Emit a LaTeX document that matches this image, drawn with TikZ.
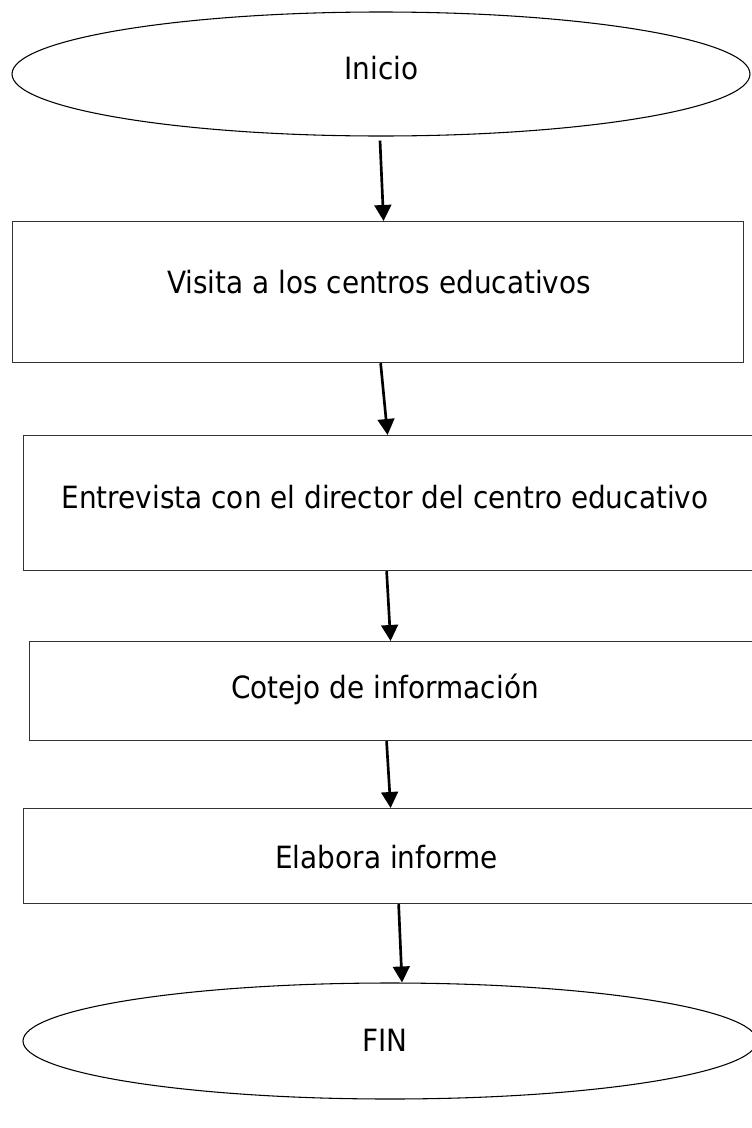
\documentclass[tikz,border=0pt]{standalone}
\usepackage{fontspec}
\setmainfont{DejaVu Sans}[FakeStretch=0.91]
\usetikzlibrary{arrows.meta,shapes.geometric}
\begin{document}
\begin{tikzpicture}[x=0.75pt,y=-0.75pt,
 boxstyle/.style={draw=black!80,line width=0.9pt,rectangle,inner sep=0pt,anchor=north west},
 termstyle/.style={draw=black,line width=0.8pt,ellipse,inner sep=0pt},
 lbl/.style={anchor=base,inner sep=0pt,font=\fontsize{23}{28}\selectfont},
 flow/.style={line width=2pt,-{Triangle[length=12pt,width=12.5pt]}}]
\clip (0,0) rectangle (752,1128);
\node[termstyle,minimum width=553.5pt,minimum height=93pt] (e1) at (381,74) {};
\node[boxstyle,minimum width=548.25pt,minimum height=105.75pt] (b1) at (12,221) {};
\node[boxstyle,minimum width=552.75pt,minimum height=101.25pt] (b2) at (23,435) {};
\node[boxstyle,minimum width=548.25pt,minimum height=74.25pt] (b3) at (29,641) {};
\node[boxstyle,minimum width=552.75pt,minimum height=71.25pt] (b4) at (23,808) {};
\node[termstyle,minimum width=550.5pt,minimum height=87pt] (e2) at (390,1041) {};
\node[lbl] (t1) at (381.5,79) {Inicio};
\node[lbl] (t2) at (379,293) {Visita a los centros educativos};
\node[lbl] (t3) at (385,508) {Entrevista con el director del centro educativo};
\node[lbl] (t4) at (385,698) {Cotejo de información};
\node[lbl] (t5) at (386.5,868) {Elabora informe};
\node[lbl] (t6) at (385,1051) {FIN};
\draw[flow] ([xshift=-0.75pt,yshift=-3pt]e1.south) -- ([xshift=4.1pt]b1.north);
\draw[flow] ([xshift=1.9pt]b1.south) -- ([xshift=-3.4pt]b2.north);
\draw[flow] ([xshift=-4.1pt]b2.south) -- ([xshift=-3.4pt]b3.north);
\draw[flow] ([xshift=-6.4pt]b3.south) -- ([xshift=-1.1pt]b4.north);
\draw[flow] ([xshift=4.9pt]b4.south) -- ([xshift=9pt]e2.north);
\end{tikzpicture}
\end{document}
